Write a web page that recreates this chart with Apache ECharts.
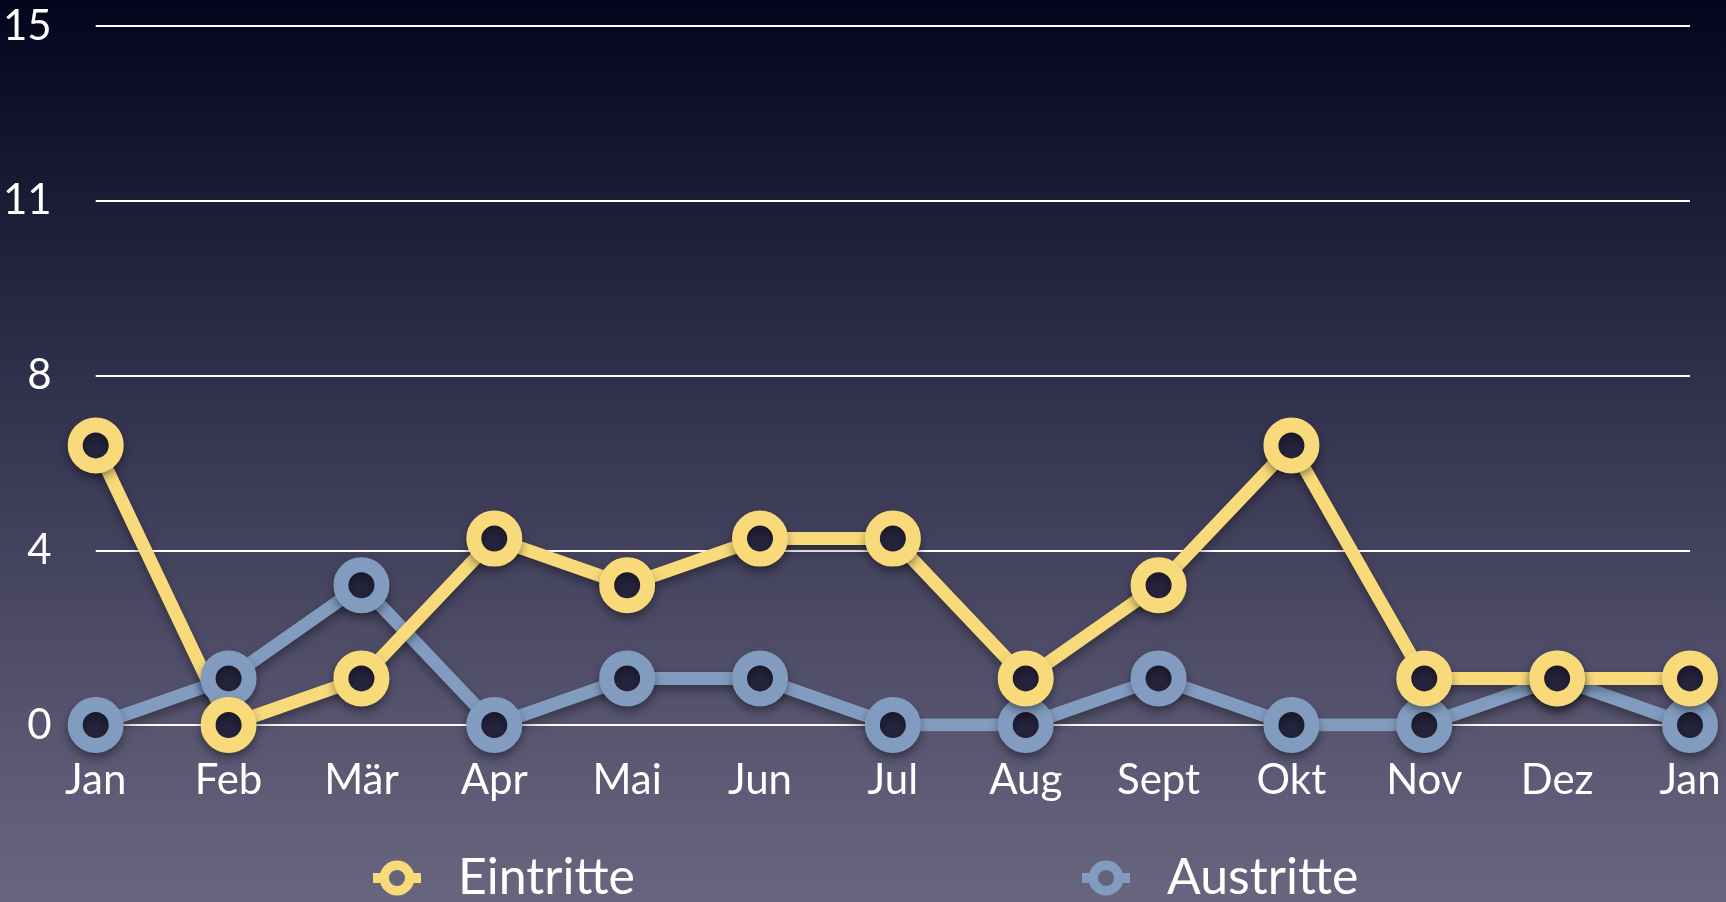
<!DOCTYPE html>
<html>
<head>
<meta charset="utf-8">
<script src="https://cdn.jsdelivr.net/npm/echarts@6/dist/echarts.min.js"></script>
<style>
    html, body { margin: 0; padding: 0; }
    #chart { width: 1726px; height: 902px; }
</style>
</head>
<body>
<div id="chart"></div>
<script>
    // Monate (letzter Jan = Folgejahr)
    var months = ['Jan', 'Feb', 'Mär', 'Apr', 'Mai', 'Jun', 'Jul', 'Aug', 'Sept', 'Okt', 'Nov', 'Dez', 'Jan'];
    var eintritte = [6, 0, 1, 4, 3, 4, 4, 1, 3, 6, 1, 1, 1];
    var austritte = [0, 1, 3, 0, 1, 1, 0, 0, 1, 0, 0, 1, 0];
    var yMax = 15;
    var yStep = 3.75;

    var yellow = '#f8da7a';
    var blue = '#829cbf';
    var font = 'Lato';

    // Ring mit kurzen Linienstücken links/rechts fuer die Legende
    var legendIcon = 'path://M0 12.5H8V22.5H0Z M40 12.5H48V22.5H40Z ' +
        'M24 0A17.5 17.5 0 1 1 24 35A17.5 17.5 0 1 1 24 0Z ' +
        'M24 9.5A8 8 0 1 0 24 25.5A8 8 0 1 0 24 9.5Z';

    function lineSeries(name, data, color) {
        return {
            name: name,
            type: 'line',
            data: data,
            symbol: 'circle',
            symbolSize: 41,
            lineStyle: {
                color: color,
                width: 13,
                shadowBlur: 10,
                shadowColor: 'rgba(0,0,0,0.35)',
                shadowOffsetY: 5
            },
            itemStyle: {
                color: '#25243d',
                borderColor: color,
                borderWidth: 15,
                shadowBlur: 10,
                shadowColor: 'rgba(0,0,0,0.35)',
                shadowOffsetY: 5
            },
            emphasis: { disabled: true },
            animation: false
        };
    }

    function legendBox(name, color, left) {
        return {
            data: [{ name: name, icon: legendIcon }],
            left: left,
            top: 848,
            itemWidth: 48,
            itemHeight: 35,
            itemStyle: { color: color, borderWidth: 0, shadowBlur: 0 },
            lineStyle: { width: 0 },
            selectedMode: false,
            textStyle: { color: '#ffffff', fontSize: 50, fontFamily: font, padding: [0, 0, 0, 32] }
        };
    }

    var myChart = echarts.init(document.getElementById('chart'));
    var option = {
        backgroundColor: new echarts.graphic.LinearGradient(0, 0, 0, 1, [
            { offset: 0, color: '#05041d' },
            { offset: 0.45, color: '#34334f' },
            { offset: 0.8, color: '#56546f' },
            { offset: 1, color: '#68667f' }
        ]),
        textStyle: { fontFamily: font },
        legend: [
            legendBox('Eintritte', yellow, 368),
            legendBox('Austritte', blue, 1077)
        ],
        grid: {
            left: 94,
            right: 36,
            top: 26,
            bottom: 177
        },
        xAxis: {
            type: 'category',
            data: months,
            boundaryGap: false,
            axisLine: { show: false },
            axisTick: { show: false },
            axisLabel: {
                color: '#ffffff',
                fontSize: 42,
                fontFamily: font,
                margin: 34
            }
        },
        yAxis: {
            type: 'value',
            min: 0,
            max: yMax,
            interval: yStep,
            axisLine: { show: false },
            axisTick: { show: false },
            axisLabel: {
                color: '#ffffff',
                fontSize: 42,
                fontFamily: font,
                margin: 44,
                padding: [10, 0, 0, 0],
                formatter: function (v) { return Math.round(v); }
            },
            splitLine: { lineStyle: { color: '#ffffff', width: 2 } }
        },
        series: [
            lineSeries('Austritte', austritte, blue),
            lineSeries('Eintritte', eintritte, yellow)
        ]
    };
    myChart.setOption(option);
</script>
</body>
</html>
